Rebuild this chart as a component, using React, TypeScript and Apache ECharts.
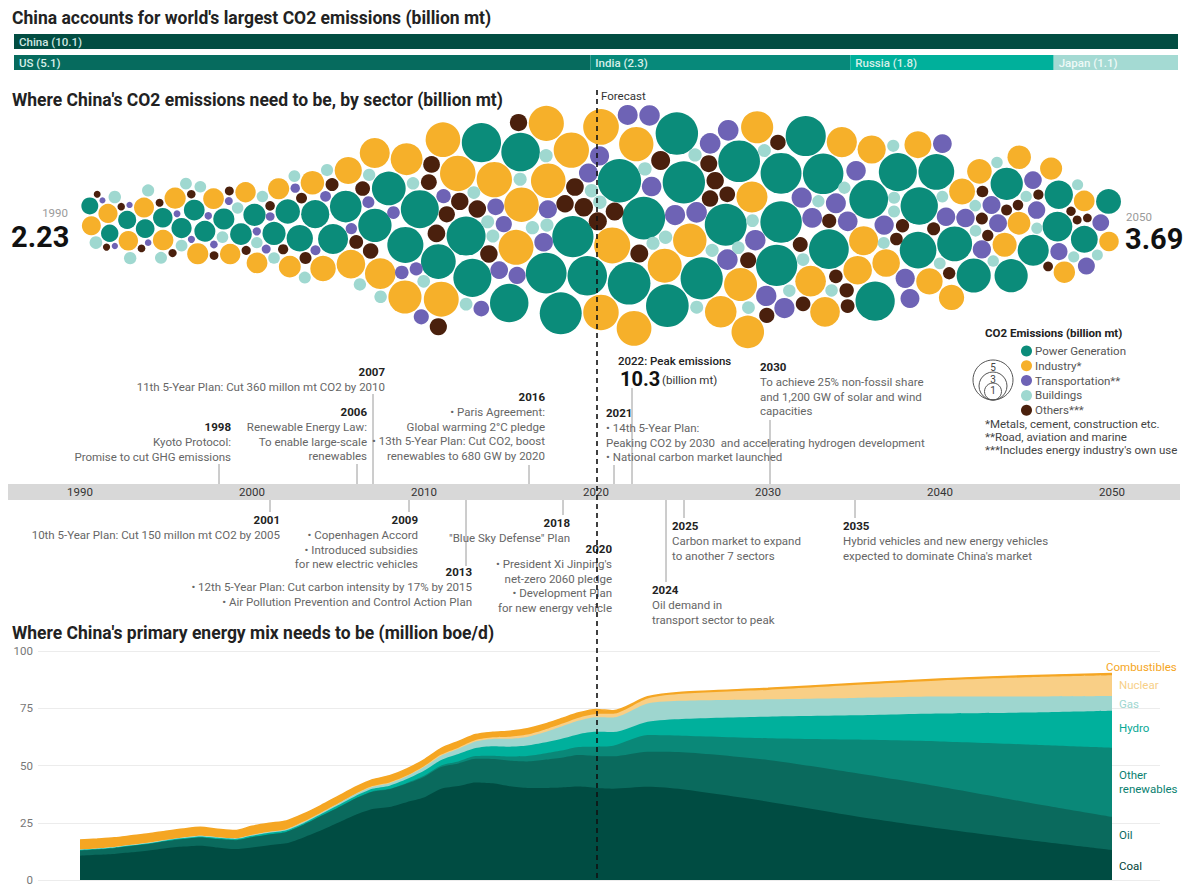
import React, { useEffect, useRef } from "react";
import * as echarts from "echarts";

const FONT = "Roboto, 'Liberation Sans', sans-serif";
const TFONT = "Roboto, 'Noto Sans', sans-serif";
const BODY = 11.5;

// ---------- Top bars ----------
const CHINA_NAME = "China";
const CHINA_VALUE = 10.1;
const OTHER_COUNTRIES = ["US", "India", "Russia", "Japan"];
const OTHER_VALUES = [5.1, 2.3, 1.8, 1.1];
const OTHER_COLORS = ["#066b5e", "#07897a", "#00b09b", "#a4dad3"];

// ---------- Bubbles (billion mt, 1990..2050) ----------
const FIRST_YEAR = 1990;
const LAST_YEAR = 2050;
const SECTOR_NAMES = ["Power Generation", "Industry*", "Transportation**", "Buildings", "Others***"];
const SECTOR_COLORS = ["#0b8c7a", "#f6b02a", "#6e63b5", "#9fd8d0", "#4a200d"];
const POWER = [
  0.72, 0.76, 0.82, 0.88, 0.95, 1.02, 1.08, 1.1, 1.12, 1.18,
  1.24, 1.34, 1.5, 1.74, 1.98, 2.25, 2.52, 2.78, 2.85, 3.02,
  3.25, 3.6, 3.62, 3.85, 3.8, 3.7, 3.72, 3.9, 4.15, 4.25,
  4.4, 4.55, 4.7, 4.58, 4.55, 4.5, 4.48, 4.45, 4.4, 4.35,
  4.3, 4.25, 4.18, 4.1, 4.02, 3.95, 3.85, 3.75, 3.62, 3.48,
  3.35, 3.2, 3.05, 2.9, 2.75, 2.6, 2.42, 2.22, 2.02, 1.8,
  1.55,
];
const INDUSTRY = [
  0.9, 0.92, 0.95, 1.0, 1.06, 1.12, 1.12, 1.08, 1.05, 1.04,
  1.08, 1.12, 1.2, 1.38, 1.62, 1.85, 2.05, 2.25, 2.35, 2.55,
  2.75, 3.0, 3.05, 3.15, 3.12, 3.05, 2.98, 3.0, 3.08, 3.12,
  3.15, 3.18, 3.25, 3.02, 2.95, 2.88, 2.8, 2.72, 2.65, 2.58,
  2.5, 2.42, 2.35, 2.28, 2.2, 2.12, 2.05, 1.98, 1.9, 1.82,
  1.75, 1.68, 1.6, 1.52, 1.45, 1.38, 1.3, 1.22, 1.15, 1.08,
  0.95,
];
const TRANSPORT = [
  0.09, 0.1, 0.1, 0.11, 0.12, 0.13, 0.14, 0.15, 0.16, 0.17,
  0.19, 0.2, 0.22, 0.25, 0.29, 0.32, 0.36, 0.4, 0.43, 0.46,
  0.52, 0.57, 0.61, 0.66, 0.7, 0.74, 0.78, 0.82, 0.87, 0.92,
  0.9, 0.96, 1.0, 1.02, 1.05, 1.06, 1.07, 1.07, 1.06, 1.05,
  1.04, 1.03, 1.02, 1.0, 0.98, 0.97, 0.95, 0.93, 0.92, 0.9,
  0.88, 0.86, 0.85, 0.83, 0.81, 0.8, 0.78, 0.76, 0.74, 0.72,
  0.7,
];
const BUILDINGS = [
  0.4, 0.39, 0.38, 0.37, 0.36, 0.35, 0.35, 0.34, 0.34, 0.33,
  0.33, 0.33, 0.34, 0.35, 0.36, 0.37, 0.38, 0.38, 0.39, 0.39,
  0.4, 0.41, 0.41, 0.42, 0.42, 0.43, 0.43, 0.44, 0.44, 0.45,
  0.45, 0.45, 0.45, 0.44, 0.43, 0.43, 0.42, 0.42, 0.41, 0.41,
  0.4, 0.4, 0.39, 0.39, 0.38, 0.38, 0.37, 0.37, 0.36, 0.36,
  0.35, 0.35, 0.34, 0.34, 0.33, 0.33, 0.32, 0.32, 0.31, 0.31,
  0.3,
];
const OTHERS = [
  0.12, 0.13, 0.14, 0.15, 0.16, 0.17, 0.18, 0.19, 0.2, 0.21,
  0.23, 0.26, 0.3, 0.36, 0.42, 0.48, 0.54, 0.6, 0.63, 0.66,
  0.7, 0.74, 0.76, 0.78, 0.77, 0.76, 0.75, 0.76, 0.78, 0.8,
  0.82, 0.84, 0.9, 0.8, 0.76, 0.72, 0.68, 0.65, 0.62, 0.6,
  0.58, 0.56, 0.54, 0.52, 0.5, 0.48, 0.46, 0.44, 0.42, 0.4,
  0.38, 0.36, 0.34, 0.32, 0.3, 0.28, 0.26, 0.24, 0.22, 0.2,
  0.19,
];

// ---------- Energy mix (million boe/d) ----------
const MIX_YEARS = [
  1990, 1991, 1992, 1993, 1994, 1995, 1996, 1997, 1998, 1999,
  2000, 2001, 2002, 2003, 2004, 2005, 2006, 2007, 2008, 2009,
  2010, 2011, 2012, 2013, 2014, 2015, 2016, 2017, 2018, 2019,
  2020, 2021, 2023, 2025, 2030, 2035, 2040, 2045, 2050,
];
const MIX_NAMES = ["Coal", "Oil", "Other renewables", "Hydro", "Gas", "Nuclear", "Combustibles"];
const MIX_COLORS = ["#004c42", "#0a6a5d", "#0a8878", "#00b09c", "#9ed6cf", "#f9cf86", "#f5a623"];
const COAL = [
  10.6, 11.0, 11.4, 12.1, 12.9, 13.9, 14.6, 15.0, 14.2, 13.5,
  14.2, 15.2, 16.0, 18.6, 21.6, 25.0, 28.4, 31.0, 31.9, 34.0,
  36.0, 39.8, 41.0, 42.6, 42.2, 40.9, 40.2, 40.2, 40.4, 40.8,
  40.2, 39.9, 40.7, 39.6, 34.2, 28.0, 22.5, 17.6, 13.1,
];
const OIL = [
  2.2, 2.3, 2.5, 2.7, 2.8, 3.0, 3.3, 3.6, 3.7, 3.9,
  4.5, 4.7, 5.0, 5.5, 6.3, 6.6, 7.1, 7.5, 7.7, 8.1,
  9.0, 9.5, 9.9, 10.3, 10.6, 11.2, 11.6, 12.3, 13.0, 13.8,
  14.0, 14.1, 15.3, 16.2, 18.2, 18.8, 18.2, 16.4, 14.5,
];
const OTHER_REN = [
  0, 0, 0, 0, 0, 0, 0, 0, 0, 0,
  0, 0, 0, 0, 0, 0.1, 0.1, 0.2, 0.2, 0.3,
  0.5, 0.7, 0.9, 1.2, 1.5, 1.8, 2.3, 2.7, 3.1, 3.5,
  4.0, 4.6, 7.3, 7.2, 9.5, 14.5, 19.8, 25.2, 30.2,
];
const HYDRO = [
  0.3, 0.3, 0.3, 0.35, 0.4, 0.4, 0.4, 0.45, 0.5, 0.5,
  0.6, 0.7, 0.7, 0.7, 0.8, 0.9, 1.0, 1.1, 1.4, 1.7,
  2.2, 2.4, 3.2, 3.5, 4.1, 4.3, 4.6, 4.8, 5.2, 5.6,
  6.5, 6.0, 5.8, 7.3, 9.4, 10.6, 12.2, 13.9, 16.1,
];
const GAS = [
  0.2, 0.2, 0.2, 0.2, 0.2, 0.2, 0.25, 0.25, 0.25, 0.25,
  0.4, 0.4, 0.4, 0.5, 0.5, 0.6, 0.8, 0.9, 1.1, 1.2,
  1.6, 1.9, 2.3, 2.9, 3.2, 3.5, 3.8, 4.5, 5.3, 5.9,
  6.4, 6.4, 8.0, 8.0, 7.6, 7.6, 7.4, 7.0, 6.4,
];
const NUCLEAR = [
  0, 0, 0, 0, 0.05, 0.05, 0.05, 0.05, 0.05, 0.05,
  0.1, 0.1, 0.1, 0.2, 0.2, 0.2, 0.2, 0.3, 0.3, 0.3,
  0.4, 0.45, 0.5, 0.6, 0.7, 0.9, 1.0, 1.1, 1.2, 1.3,
  1.4, 1.6, 2.2, 3.0, 4.1, 5.6, 7.0, 8.4, 9.1,
];
const COMBUSTIBLES = [
  4.2, 4.1, 4.0, 3.95, 3.85, 3.75, 3.7, 3.65, 3.5, 3.4,
  3.7, 3.7, 3.6, 3.3, 3.1, 3.1, 2.9, 2.8, 2.9, 2.9,
  2.8, 2.75, 2.7, 2.4, 2.2, 2.4, 2.5, 2.4, 2.3, 2.1,
  2.0, 1.3, 0.7, 0.7, 0.7, 0.7, 0.7, 0.7, 0.8,
];
const TIMELINE_LABELS = [1990, 2000, 2010, 2020, 2030, 2040, 2050];

// ---------- layout constants ----------
const BUBBLE_LEFT = 96;
const BUBBLE_RIGHT_X = 1092;
const BUBBLE_DIAM_PER_SQRT = 20;

function buildSwarm() {
  const sectors = [POWER, INDUSTRY, TRANSPORT, BUILDINGS, OTHERS];
  const pxPerYear = (BUBBLE_RIGHT_X - BUBBLE_LEFT) / (LAST_YEAR - FIRST_YEAR);
  const seeds = [0, 9, -9, 17, -17];
  const nodes: any[] = [];
  sectors.forEach((vals, s) =>
    vals.forEach((v, i) => {
      const r = (BUBBLE_DIAM_PER_SQRT * Math.sqrt(v)) / 2;
      const tx = i * pxPerYear;
      const sign = i % 2 === 0 ? 1 : -1;
      nodes.push({ s, v, r, tx, x: tx, y: seeds[s] * sign });
    })
  );
  const n = nodes.length;
  const pad = 1.6;
  const collide = () => {
    for (let a = 0; a < n; a++) {
      const A = nodes[a];
      for (let b = a + 1; b < n; b++) {
        const B = nodes[b];
        const dx = B.x - A.x;
        const min = A.r + B.r + pad;
        if (dx > min || dx < -min) continue;
        const dy = B.y - A.y;
        const d2 = dx * dx + dy * dy;
        if (d2 >= min * min) continue;
        const d = Math.sqrt(d2);
        let ux = 0, uy = 1;
        if (d > 1e-6) { ux = dx / d; uy = dy / d; }
        const ov = min - d;
        const wa = (B.r * B.r) / (A.r * A.r + B.r * B.r);
        A.x -= ux * ov * wa; A.y -= uy * ov * wa;
        B.x += ux * ov * (1 - wa); B.y += uy * ov * (1 - wa);
      }
    }
  };
  for (let it = 0; it < 420; it++) {
    for (const nd of nodes) {
      nd.x += (nd.tx - nd.x) * 0.1;
      nd.y *= 0.97;
    }
    collide();
    collide();
    collide();
  }
  for (let k = 0; k < 25; k++) collide();
  return nodes.map((nd) => ({
    s: nd.s,
    value: [FIRST_YEAR + nd.x / pxPerYear, -nd.y, nd.r * 2, nd.v],
  }));
}

type Ev = { x: number; y: number; year: string; lines: string[]; align: "left" | "right" };
const EVENTS: Ev[] = [
  { x: 231, y: 427, year: "1998", lines: ["Kyoto Protocol:", "Promise to cut GHG emissions"], align: "right" },
  { x: 367, y: 412, year: "2006", lines: ["Renewable Energy Law:", "To enable large-scale", "renewables"], align: "right" },
  { x: 385, y: 372, year: "2007", lines: ["11th 5-Year Plan: Cut 360 millon mt CO2 by 2010"], align: "right" },
  { x: 545, y: 397, year: "2016", lines: ["• Paris Agreement:", "Global warming 2°C pledge", "• 13th 5-Year Plan: Cut CO2, boost", "renewables to 680 GW by 2020"], align: "right" },
  { x: 606, y: 413, year: "2021", lines: ["• 14th 5-Year Plan:", "Peaking CO2 by 2030  and accelerating hydrogen development", "• National carbon market launched"], align: "left" },
  { x: 760, y: 367, year: "2030", lines: ["To achieve 25% non-fossil share", "and 1,200 GW of solar and wind", "capacities"], align: "left" },
  { x: 280, y: 520, year: "2001", lines: ["10th 5-Year Plan: Cut 150 millon mt CO2 by 2005"], align: "right" },
  { x: 418, y: 520, year: "2009", lines: ["• Copenhagen Accord", "• Introduced subsidies", "for new electric vehicles"], align: "right" },
  { x: 472, y: 572, year: "2013", lines: ["• 12th 5-Year Plan: Cut carbon intensity by 17% by 2015", "• Air Pollution Prevention and Control Action Plan"], align: "right" },
  { x: 570, y: 523, year: "2018", lines: ["\"Blue Sky Defense\" Plan"], align: "right" },
  { x: 612, y: 549, year: "2020", lines: ["• President Xi Jinping's", "net-zero 2060 pledge", "• Development Plan", "for new energy vehicle"], align: "right" },
  { x: 652, y: 590, year: "2024", lines: ["Oil demand in", "transport sector to peak"], align: "left" },
  { x: 672, y: 526, year: "2025", lines: ["Carbon market to expand", "to another 7 sectors"], align: "left" },
  { x: 843, y: 526, year: "2035", lines: ["Hybrid vehicles and new energy vehicles", "expected to dominate China's market"], align: "left" },
];
const TICKS: [number, number, number][] = [
  [219, 464, 484], [357, 464, 484], [373, 394, 484], [529, 465, 484],
  [614, 465, 484], [632, 388, 484], [770, 420, 484],
  [270, 500, 512], [409, 500, 512], [466, 500, 566], [563, 500, 515],
  [666, 500, 582], [684, 500, 518], [855, 500, 518],
];
const MIX_LABELS: [string, number, number, string][] = [
  ["Combustibles", 1106, 667, "#f5a623"],
  ["Nuclear", 1119, 685, "#f7cf88"],
  ["Gas", 1119, 704, "#9ed6cf"],
  ["Hydro", 1119, 728, "#08a895"],
  ["Other", 1119, 775, "#0a7f70"],
  ["renewables", 1119, 789, "#0a7f70"],
  ["Oil", 1119, 835, "#0a6a5d"],
  ["Coal", 1119, 866, "#003f36"],
];

function txt(x: number, y: number, text: string, o: any = {}) {
  return {
    type: "text",
    x,
    y,
    z: 50,
    silent: true,
    style: {
      text,
      fill: o.fill || "#666",
      fontSize: o.size || BODY,
      fontWeight: o.weight || "normal",
      fontFamily: o.family || FONT,
      align: o.align || "left",
      verticalAlign: "middle",
    },
  };
}

export default function App() {
  const ref = useRef<HTMLDivElement>(null);
  useEffect(() => {
    if (!ref.current) return;
    const chart = echarts.init(ref.current, null, { renderer: "svg" });
    const swarm = buildSwarm();

    const graphic: any[] = [];
    graphic.push(txt(12, 18, "China accounts for world's largest CO2 emissions (billion mt)", { size: 17.5, weight: "bold", fill: "#222", family: TFONT }));
    graphic.push(txt(12, 100, "Where China's CO2 emissions need to be, by sector (billion mt)", { size: 17.5, weight: "bold", fill: "#222", family: TFONT }));
    graphic.push(txt(12, 633, "Where China's primary energy mix needs to be (million boe/d)", { size: 17.5, weight: "bold", fill: "#222", family: TFONT }));
    graphic.push(txt(68, 213, "1990", { align: "right", fill: "#9a9a9a" }));
    graphic.push(txt(11, 237, "2.23", { size: 29, weight: "bold", fill: "#111", family: TFONT }));
    graphic.push(txt(1126, 217, "2050", { fill: "#9a9a9a" }));
    graphic.push(txt(1125, 239, "3.69", { size: 29, weight: "bold", fill: "#111", family: TFONT }));
    graphic.push(txt(601, 96, "Forecast", { fill: "#333" }));

    EVENTS.forEach((e) => {
      graphic.push(txt(e.x, e.y, e.year, { align: e.align, weight: "bold", fill: "#222" }));
      e.lines.forEach((l, k) => graphic.push(txt(e.x, e.y + 15 * (k + 1) - 0.5 * k, l, { align: e.align })));
    });
    TICKS.forEach(([x, y1, y2]) =>
      graphic.push({ type: "line", z: 40, silent: true, shape: { x1: x, y1, x2: x, y2 }, style: { stroke: "#9a9a9a", lineWidth: 1 } })
    );
    graphic.push(txt(618, 361, "2022: Peak emissions", { fill: "#222", weight: 500 }));
    graphic.push(txt(620, 379, "10.3", { size: 20, weight: "bold", fill: "#111", family: TFONT }));
    graphic.push(txt(662, 380, "(billion mt)", { fill: "#333" }));

    // size legend
    graphic.push(txt(985, 333, "CO2 Emissions (billion mt)", { weight: "bold", fill: "#222" }));
    [[20, "5"], [14, "3"], [8.5, "1"]].forEach(([r, lab]: any) => {
      graphic.push({ type: "circle", z: 40, silent: true, shape: { cx: 993, cy: 400 - r, r }, style: { fill: "none", stroke: "#555", lineWidth: 1 } });
      graphic.push(txt(993, 400 - 2 * r + 7, lab, { align: "center", fill: "#444", size: 10 }));
    });
    graphic.push(txt(985, 424, "*Metals, cement, construction etc.", { fill: "#444" }));
    graphic.push(txt(985, 437, "**Road, aviation and marine", { fill: "#444" }));
    graphic.push(txt(985, 450, "***Includes energy industry's own use", { fill: "#444" }));

    MIX_LABELS.forEach(([t, x, y, c]) => graphic.push(txt(x, y, t, { fill: c })));

    graphic.push({
      type: "line",
      z: 100,
      silent: true,
      shape: { x1: 597, y1: 90, x2: 597, y2: 881 },
      style: { stroke: "#111", lineWidth: 1.6, lineDash: [5, 4] },
    });

    // cumulative tops of each layer (bottom -> top)
    const layers = [COAL, OIL, OTHER_REN, HYDRO, GAS, NUCLEAR, COMBUSTIBLES];
    const cum: number[][] = [];
    layers.forEach((arr, k) => {
      cum.push(arr.map((v, i) => +(v + (k > 0 ? cum[k - 1][i] : 0)).toFixed(3)));
    });
    const areaSeries: any[] = [];
    for (let k = layers.length - 1; k >= 0; k--) {
      areaSeries.push({
        type: "line", name: MIX_NAMES[k], xAxisIndex: 4, yAxisIndex: 4, silent: true,
        symbol: "none", smooth: 0.25, z: 2 + (layers.length - k),
        lineStyle: { width: k === 6 ? 1.5 : 0, color: MIX_COLORS[k] },
        areaStyle: { color: MIX_COLORS[k], opacity: 1, origin: "start" },
        itemStyle: { color: MIX_COLORS[k] },
        data: MIX_YEARS.map((y, i) => [y, cum[k][i]]),
      });
    }

    const option: any = {
      animation: false,
      backgroundColor: "#ffffff",
      textStyle: { fontFamily: FONT },
      grid: [
        { left: 14, right: 13, top: 34, height: 15 },
        { left: 14, right: 13, top: 55, height: 15 },
        { left: BUBBLE_LEFT, right: 1191 - BUBBLE_RIGHT_X, top: 92, height: 262 },
        { left: 8, right: 11, top: 484, height: 16, show: true, backgroundColor: "#d8d8d8", borderWidth: 0 },
        { left: 38, right: 31, top: 651, height: 229 },
      ],
      xAxis: [
        { gridIndex: 0, type: "value", min: 0, max: CHINA_VALUE, show: false },
        { gridIndex: 1, type: "value", min: 0, max: 10.3, show: false },
        { gridIndex: 2, type: "value", min: FIRST_YEAR, max: LAST_YEAR, show: false },
        {
          gridIndex: 3, type: "value", min: 1985.814, max: 2053.953, position: "top",
          axisLine: { show: false }, axisTick: { show: false }, splitLine: { show: false },
          axisLabel: { customValues: TIMELINE_LABELS, formatter: (v: number) => String(v), margin: -8, verticalAlign: "middle", color: "#333", fontSize: 11.5, fontFamily: FONT },
        },
        { gridIndex: 4, type: "value", min: 1987.558, max: 2052.791, show: false },
      ],
      yAxis: [
        { gridIndex: 0, type: "category", data: [CHINA_NAME], show: false },
        { gridIndex: 1, type: "category", data: ["Others"], show: false },
        { gridIndex: 2, type: "value", min: -131, max: 131, show: false },
        { gridIndex: 3, type: "value", min: 0, max: 1, show: false },
        {
          gridIndex: 4, type: "value", min: 0, max: 100, interval: 25,
          axisLine: { show: false }, axisTick: { show: false },
          splitLine: { lineStyle: { color: "#ececec", width: 1 } },
          axisLabel: { color: "#777", fontSize: 11.5, margin: 5 },
        },
      ],
      legend: {
        data: SECTOR_NAMES,
        orient: "vertical",
        left: 1016,
        top: 340,
        itemWidth: 11,
        itemHeight: 11,
        itemGap: 2.8,
        icon: "circle",
        selectedMode: false,
        textStyle: { fontSize: BODY, color: "#555", fontFamily: FONT, padding: [0, 0, 0, -2] },
      },
      series: [
        {
          type: "bar", name: CHINA_NAME, xAxisIndex: 0, yAxisIndex: 0, data: [CHINA_VALUE], barWidth: "100%",
          itemStyle: { color: "#024d42" }, silent: true,
          label: { show: true, position: "insideLeft", distance: 5, formatter: `${CHINA_NAME} (${CHINA_VALUE})`, color: "#cfe8e2", fontSize: 11.5, fontWeight: 500, fontFamily: FONT },
        },
        ...OTHER_COUNTRIES.map((c, i) => ({
          type: "bar", name: c, xAxisIndex: 1, yAxisIndex: 1, stack: "others", data: [OTHER_VALUES[i]], barWidth: "100%",
          itemStyle: { color: OTHER_COLORS[i] }, silent: true,
          label: { show: true, position: "insideLeft", distance: 5, formatter: `${c} (${OTHER_VALUES[i]})`, color: i === 3 ? "#eef9f7" : "#d6efe9", fontSize: 11.5, fontWeight: 500, fontFamily: FONT },
        })),
        ...SECTOR_NAMES.map((nm, s) => ({
          type: "scatter", name: nm, xAxisIndex: 2, yAxisIndex: 2, silent: true, clip: false,
          itemStyle: { color: SECTOR_COLORS[s], opacity: 1 },
          symbolSize: (v: number[]) => v[2],
          data: swarm.filter((d) => d.s === s).map((d) => d.value),
        })),
        ...areaSeries,
      ],
      graphic,
    };
    chart.setOption(option);
    return () => chart.dispose();
  }, []);
  return <div ref={ref} style={{ position: "absolute", left: 0, top: 0, width: 1191, height: 888, background: "#fff" }} />;
}
